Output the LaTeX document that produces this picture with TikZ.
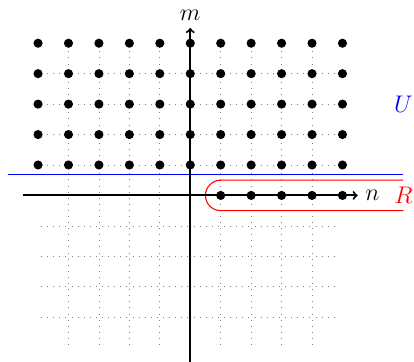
\documentclass[tikz,border=0pt]{standalone}
\usepackage{graphicx}
\newcommand{\bigtxt}[1]{\scalebox{1.3}{\LARGE #1}}
\begin{document}
\begin{tikzpicture}[x=1cm,y=1cm,
  gridline/.style={gray, line width=0.6pt, dash pattern=on 0.5pt off 5.2pt},
  axisline/.style={line width=1.9pt, ->},
  latpt/.style={circle, fill=black, inner sep=0pt, minimum size=0.3cm},
  lbl/.style={inner sep=0.22cm}]
\useasboundingbox (-6.25,-5.45) rectangle (7.35,6.42);
\draw[gridline] (-4.9,-4.9) grid (4.9,4.9);
\draw[blue, line width=1pt] (-6,0.7) -- (7,0.7);
\draw[red, line width=1pt] (7,0.5) -- (1,0.5) arc[start angle=90, end angle=270, radius=0.5] -- (7,-0.5);
\draw[axisline] (-5.5,0) -- (5.5,0) node[lbl, right] (nlab) {\bigtxt{$n$}};
\draw[axisline] (0,-5.5) -- (0,5.5) node[lbl, above] (mlab) {\bigtxt{$m$}};
\foreach \x in {-5,...,5}
  \foreach \y in {1,...,5}
    \node[latpt] (p\x\y) at (\x,\y) {};
\foreach \x in {1,...,5}
  \node[latpt] (q\x) at (\x,0) {};
\node[lbl, blue] (ulab) at (7,3) {\bigtxt{$U$}};
\node[lbl, red] (rlab) at (7,0) {\bigtxt{$R$}};
\end{tikzpicture}
\end{document}
